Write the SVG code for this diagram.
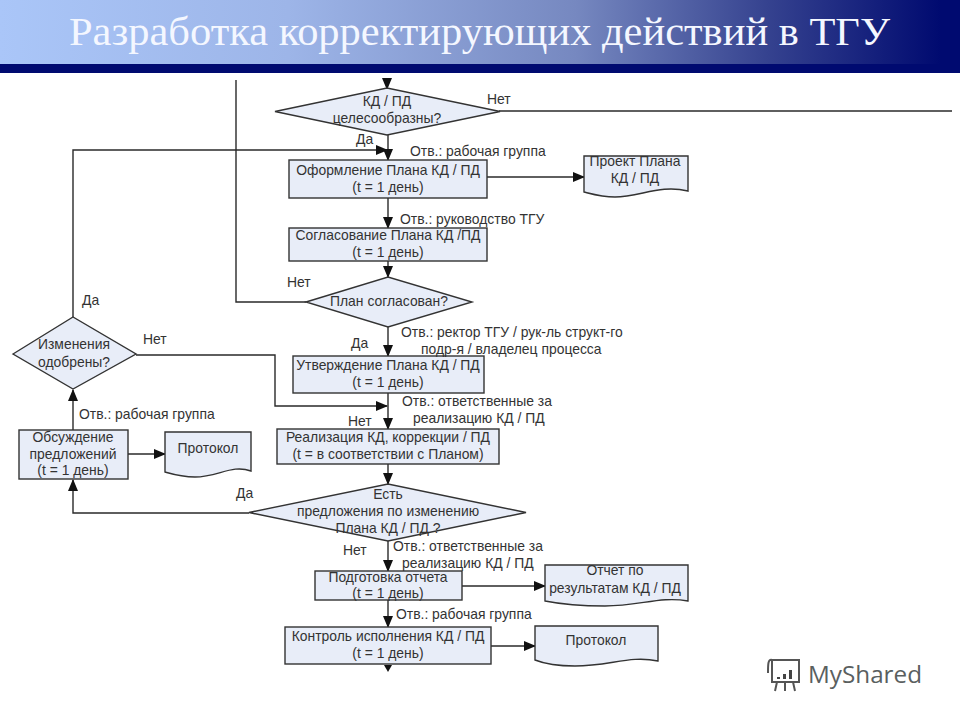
<svg xmlns="http://www.w3.org/2000/svg" width="960" height="720" viewBox="0 0 960 720">
<style>
text{font-family:"Liberation Sans",Arial,sans-serif;font-size:13.9px;fill:#333;text-anchor:middle}
.l{text-anchor:start}
.n{fill:#e8edf8;stroke:#333;stroke-width:1.4}
.c{fill:none;stroke:#2a2a2a;stroke-width:1.4}
.a{fill:#111;stroke:none}
</style>
<defs>
<linearGradient id="g" x1="0" y1="0" x2="1" y2="0">
<stop offset="0" stop-color="#aac6f8"/><stop offset="0.3" stop-color="#9db5e8"/><stop offset="0.6" stop-color="#7688c0"/><stop offset="0.8" stop-color="#35428f"/><stop offset="0.98" stop-color="#000a70"/>
</linearGradient>
<marker id="m" markerWidth="12" markerHeight="10" refX="11" refY="5" orient="auto" markerUnits="userSpaceOnUse"><path d="M0,0L12,5L0,10Z" class="a"/></marker>
</defs>
<rect width="960" height="720" fill="#fff"/>
<g id="header">
<rect width="960" height="64" fill="url(#g)"/>
<rect y="64" width="960" height="9" fill="#000a70"/>
<text x="69" y="45" class="l" style="font-family:'Liberation Serif','Times New Roman',serif;font-size:40px;fill:#f4f7ff" textLength="821" lengthAdjust="spacingAndGlyphs">Разработка корректирующих действий в ТГУ</text>
</g>
<g id="connectors">
<path class="c" d="M387,80V89" marker-end="url(#m)"/>
<path class="c" d="M499,111H952"/>
<path class="c" d="M388,135V160" marker-end="url(#m)"/>
<path class="c" d="M73,317V150H387" marker-end="url(#m)"/>
<path class="c" d="M487,177H584" marker-end="url(#m)"/>
<path class="c" d="M388,198V228" marker-end="url(#m)"/>
<path class="c" d="M388,261V277" marker-end="url(#m)"/>
<path class="c" d="M306,302H236V80"/>
<path class="c" d="M388,327V356" marker-end="url(#m)"/>
<path class="c" d="M388,393V429" marker-end="url(#m)"/>
<path class="c" d="M136,355H275V406H387" marker-end="url(#m)"/>
<path class="c" d="M388,464V484" marker-end="url(#m)"/>
<path class="c" d="M249,513H73V480" marker-end="url(#m)"/>
<path class="c" d="M73,430V390" marker-end="url(#m)"/>
<path class="c" d="M128,454H165" marker-end="url(#m)"/>
<path class="c" d="M388,541V571" marker-end="url(#m)"/>
<path class="c" d="M462,586H545" marker-end="url(#m)"/>
<path class="c" d="M388,600V627" marker-end="url(#m)"/>
<path class="c" d="M491,646H535" marker-end="url(#m)"/>
<path class="a" d="M384,665H392L388,672Z"/>
</g>
<g id="d-feasible"><path class="n" d="M275,111.500L387,88L500,111.500L387,135Z"/><text x="387" y="106">КД / ПД</text><text x="387" y="123">целесообразны?</text></g>
<g id="b-draft"><rect class="n" x="289" y="160" width="198" height="38"/><text x="388" y="175">Оформление Плана КД / ПД</text><text x="388" y="192">(t = 1 день)</text></g>
<g id="doc-draft"><path class="n" d="M584,156H688V191C660,184 640,197 615,197C602,197 592,194 584,192Z"/><text x="635" y="166">Проект Плана</text><text x="635" y="183">КД / ПД</text></g>
<g id="b-agree"><rect class="n" x="289" y="228" width="198" height="33"/><text x="388" y="240">Согласование Плана КД /ПД</text><text x="388" y="257">(t = 1 день)</text></g>
<g id="d-agreed"><path class="n" d="M306,302L388,277L472,302L388,327Z"/><text x="389" y="306">План согласован?</text></g>
<g id="d-approved"><path class="n" d="M13,354L73,317L136,354L73,389Z"/><text x="74" y="349">Изменения</text><text x="74" y="367">одобрены?</text></g>
<g id="b-approve"><rect class="n" x="293" y="356" width="191" height="37"/><text x="388" y="370">Утверждение Плана КД / ПД</text><text x="388" y="387">(t = 1 день)</text></g>
<g id="b-impl"><rect class="n" x="277" y="429" width="222" height="35"/><text x="388" y="442">Реализация КД, коррекции / ПД</text><text x="388" y="459">(t = в соответствии с Планом)</text></g>
<g id="b-discuss"><rect class="n" x="19" y="430" width="109" height="49"/><text x="73" y="442">Обсуждение</text><text x="73" y="459">предложений</text><text x="73" y="475">(t = 1 день)</text></g>
<g id="doc-proto1"><path class="n" d="M165,432H251V471C232,464 218,477 195,477C182,477 172,474 165,472Z"/><text x="208" y="453">Протокол</text></g>
<g id="d-proposals"><path class="n" d="M249,512.500L388,484L526,512.500L388,541Z"/><text x="388" y="499">Есть</text><text x="388" y="516">предложения по изменению</text><text x="388" y="533">Плана КД / ПД ?</text></g>
<g id="b-report"><rect class="n" x="315" y="571" width="147" height="29"/><text x="388" y="582">Подготовка отчета</text><text x="388" y="598">(t = 1 день)</text></g>
<g id="doc-report"><path class="n" d="M545,565H688V601C660,596 640,606 605,606C580,606 560,604 545,601Z"/><text x="615" y="575">Отчет по</text><text x="615" y="593">результатам КД / ПД</text></g>
<g id="b-control"><rect class="n" x="285" y="627" width="206" height="37"/><text x="388" y="641">Контроль исполнения КД / ПД</text><text x="388" y="658">(t = 1 день)</text></g>
<g id="doc-proto2"><path class="n" d="M535,626H658V661C630,655 610,666 575,666C558,666 545,664 535,660Z"/><text x="596" y="645">Протокол</text></g>
<g id="labels">
<text x="487" y="104" class="l">Нет</text>
<text x="356" y="144" class="l">Да</text>
<text x="410" y="156" class="l">Отв.: рабочая группа</text>
<text x="400" y="224" class="l">Отв.: руководство ТГУ</text>
<text x="287" y="287" class="l">Нет</text>
<text x="82" y="305" class="l">Да</text>
<text x="143" y="344" class="l">Нет</text>
<text x="351" y="348" class="l">Да</text>
<text x="401" y="337" class="l">Отв.: ректор ТГУ / рук-ль структ-го</text>
<text x="421" y="354" class="l">подр-я / владелец процесса</text>
<text x="402" y="406" class="l">Отв.: ответственные за</text>
<text x="413" y="423" class="l">реализацию КД / ПД</text>
<text x="348" y="426" class="l">Нет</text>
<text x="79" y="419" class="l">Отв.: рабочая группа</text>
<text x="236" y="498" class="l">Да</text>
<text x="343" y="555" class="l">Нет</text>
<text x="393" y="551" class="l">Отв.: ответственные за</text>
<text x="402" y="568" class="l">реализацию КД / ПД</text>
<text x="396" y="619" class="l">Отв.: рабочая группа</text>
</g>
<g id="watermark">
<path d="M772,660H799V682H772ZM772,660C768,659 768,664 768,673M777,682L775,691M785,682V691M793,682L795,691" fill="none" stroke="#555" stroke-width="2"/>
<path d="M777,677H780V679H777ZM783,674H786V679H783ZM789,670H792V679H789Z" fill="#444"/>
<text x="808" y="683" class="l" style="font-family:'Open Sans','Noto Sans',sans-serif;font-size:24px;fill:#5a5f5f" textLength="114" lengthAdjust="spacingAndGlyphs">MyShared</text>
</g>
</svg>
